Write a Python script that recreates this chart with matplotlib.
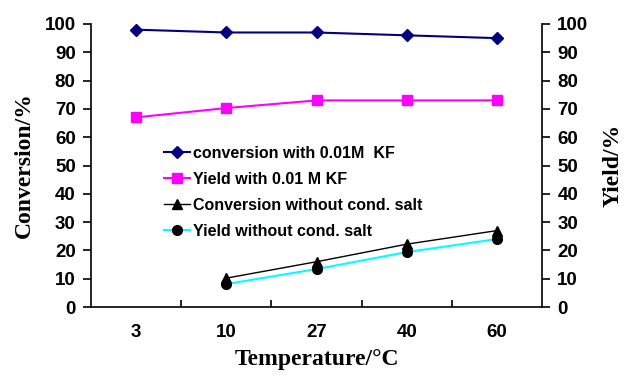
import matplotlib
matplotlib.use("Agg")
import matplotlib.pyplot as plt
import numpy as np

# Data
temps = ['3', '10', '27', '40', '60']
conv_kf = [98, 97, 97, 96, 95]
yield_kf = [67, 70.3, 73, 73, 73]
conv_nosalt = [np.nan, 10.2, 16, 22.2, 27]
yield_nosalt = [np.nan, 8.1, 13.4, 19.4, 24]

sans = 'Liberation Sans'
serif = 'Liberation Serif'

fig = plt.figure(figsize=(6.25, 3.75), dpi=100)
ax = fig.add_axes([0.1456, 0.1813, 0.7216, 0.7547])
x = np.arange(len(temps))

ax.plot(x, conv_kf, color='#000080', marker='D', markersize=6, lw=1.5,
        label='conversion with 0.01M  KF')
ax.plot(x, yield_kf, color='#ff00ff', marker='s', markersize=7, lw=1.5,
        label='Yield with 0.01 M KF')
ax.plot(x, conv_nosalt, color='black', marker='^', markersize=7, lw=1,
        label='Conversion without cond. salt')
ax.plot(x, yield_nosalt, color='#00ffff', marker='o', markersize=7, lw=1.5,
        markerfacecolor='black', markeredgecolor='black',
        label='Yield without cond. salt')

ax.set_xlim(-0.5, len(temps) - 0.5)
ax.set_ylim(0, 100)
ax.set_yticks(range(0, 101, 10))
ax.set_xticks(x)
ax.set_xticklabels(temps)
ax.set_xticks(np.arange(0.5, len(temps) - 1, 1), minor=True)
ax.tick_params(axis='x', which='major', length=0, pad=12)
ax.tick_params(axis='x', which='minor', length=5, direction='in', width=1.2)
ax.tick_params(axis='y', direction='out', length=6, width=1.2, pad=5)

ax.spines['top'].set_visible(False)
ax.spines['right'].set_visible(False)
for s in ['left', 'bottom']:
    ax.spines[s].set_linewidth(1.2)

for lab in ax.get_xticklabels() + ax.get_yticklabels():
    lab.set_fontfamily(sans)
    lab.set_fontweight('bold')
    lab.set_fontsize(13.5)

ax.set_xlabel('Temperature/°C', fontfamily=serif, fontweight='bold', fontsize=17, labelpad=6)
ax.set_ylabel('Conversion/%', fontfamily=serif, fontweight='bold', fontsize=17, labelpad=7)

ax2 = ax.twinx()
ax2.set_ylim(0, 100)
ax2.set_yticks(range(0, 101, 10))
ax2.tick_params(axis='y', direction='out', length=6, width=1.2, pad=5)
ax2.spines['top'].set_visible(False)
ax2.spines['left'].set_visible(False)
ax2.spines['bottom'].set_visible(False)
ax2.spines['right'].set_linewidth(1.2)
for lab in ax2.get_yticklabels():
    lab.set_fontfamily(sans)
    lab.set_fontweight('bold')
    lab.set_fontsize(13.5)
ax2.set_ylabel('Yield/%', fontfamily=serif, fontweight='bold', fontsize=17, labelpad=10)

ax.legend(loc='upper left', bbox_to_anchor=(0.13, 0.62), frameon=False,
          prop={'family': sans, 'weight': 'bold', 'size': 11.5},
          handlelength=1.6, handletextpad=0.2, labelspacing=0.68)

fig.savefig('out.png', dpi=100)
